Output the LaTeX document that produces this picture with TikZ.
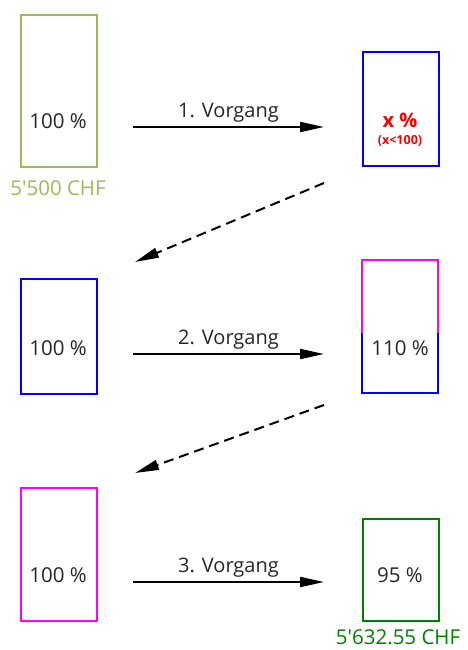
\documentclass[tikz,border=0pt]{standalone}
\usepackage{fontspec}
\setmainfont{Open Sans}
\usetikzlibrary{arrows.meta}
\definecolor{olivegr}{HTML}{9BBB59}
\definecolor{darkgr}{HTML}{008000}
\definecolor{pblue}{HTML}{0000FF}
\definecolor{pmag}{HTML}{FF00FF}
\definecolor{pred}{HTML}{FF0000}
\tikzset{
  bar/.style={rectangle, line width=2.2pt, minimum width=76pt, inner sep=0pt, anchor=north west},
  pct/.style={font=\fontsize{20.5}{20.5}\selectfont, text=black!85},
  flow/.style={line width=2pt, -{Triangle[length=24pt,width=10pt]}},
  back/.style={line width=2pt, dash pattern=on 10pt off 6pt, -{Triangle[length=24pt,width=10pt]}},
  vlab/.style={font=\fontsize{20}{20}\selectfont, text=black!85, anchor=south},
  money/.style={font=\fontsize{20.5}{20.5}\selectfont, inner sep=1pt}
}
\begin{document}
\begin{tikzpicture}[x=1pt,y=-1pt]
\useasboundingbox (0,0) rectangle (467,650);
% row 1
\node[bar, draw=olivegr, minimum height=152pt] (b1) at (20,14) {};
\node[pct] (t1) at (58,121) {100 \%};
\node[money, text=olivegr] (m1) at (58,188) {5\textquotesingle 500 CHF};
\node[bar, draw=pblue, minimum height=114pt] (b2) at (362,51) {};
\node[font=\bfseries\fontsize{20}{20}\selectfont, text=pred] (t2) at (400,120) {x \%};
\node[font=\bfseries\fontsize{12.5}{12.5}\selectfont, text=pred] (t2b) at (400,141) {(x<100)};
% row 2
\node[bar, draw=pblue, minimum height=115pt] (b3) at (20,278) {};
\node[pct] (t3) at (58,348) {100 \%};
\node[bar, minimum height=133pt] (b4) at (362,260) {};
\draw[line width=2.2pt, pmag] (362,334) |- (438,260) -- (438,334);
\draw[line width=2.2pt, pblue] (362,333) |- (438,393) -- (438,333);
\node[pct] (t4) at (400,348) {110 \%};
% row 3
\node[bar, draw=pmag, minimum height=133pt] (b5) at (20,487) {};
\node[pct] (t5) at (58,575) {100 \%};
\node[bar, draw=darkgr, minimum height=102pt] (b6) at (362,518) {};
\node[pct] (t6) at (400,575) {95 \%};
\node[money, text=darkgr] (m6) at (398,637) {5\textquotesingle 632.55 CHF};
% arrows
\coordinate (a1s) at (133,127); \coordinate (a1e) at (324,127);
\coordinate (a2s) at (133,354); \coordinate (a2e) at (324,354);
\coordinate (a3s) at (133,582); \coordinate (a3e) at (324,582);
\coordinate (d1s) at (324,183); \coordinate (d1e) at (135,262);
\coordinate (d2s) at (324,405); \coordinate (d2e) at (135,473);
\draw[flow] (a1s) -- node[vlab, above=0pt] {1. Vorgang} (a1e);
\draw[flow] (a2s) -- node[vlab, above=0pt] {2. Vorgang} (a2e);
\draw[flow] (a3s) -- node[vlab, above=0pt] {3. Vorgang} (a3e);
\draw[back] (d1s) -- (d1e);
\draw[back] (d2s) -- (d2e);
\end{tikzpicture}
\end{document}
